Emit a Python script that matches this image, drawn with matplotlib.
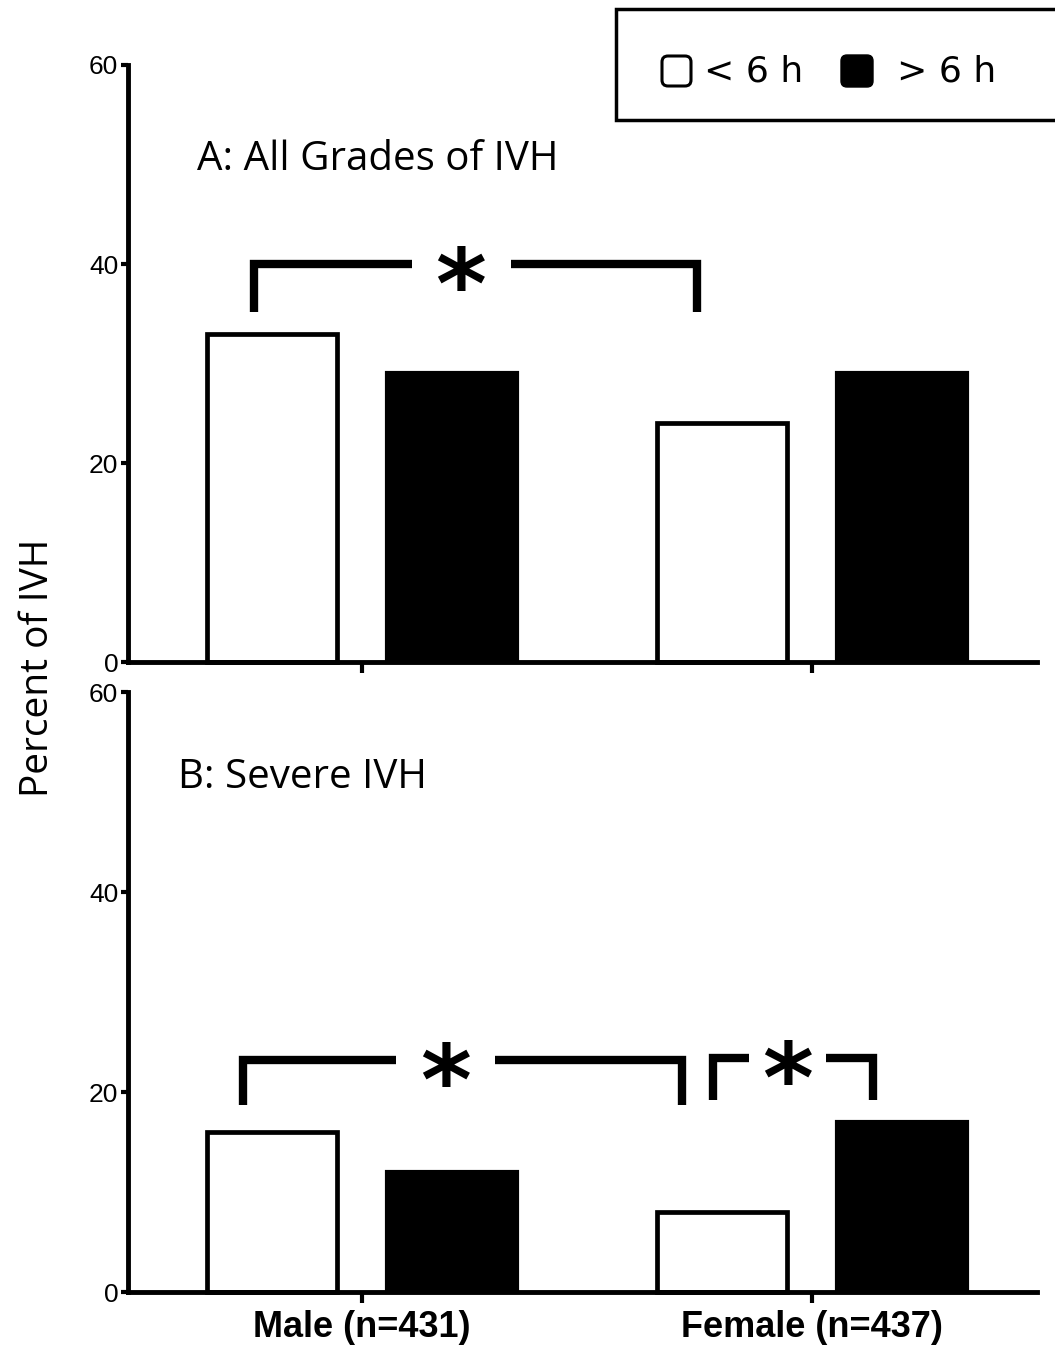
import numpy as np
import matplotlib.pyplot as plt
from matplotlib.patches import Rectangle, FancyBboxPatch
from matplotlib.transforms import offset_copy

# data
groups = ["Male (n=431)", "Female (n=437)"]
all_lt6 = [33, 24]
all_gt6 = [29, 29]
severe_lt6 = [16, 8]
severe_gt6 = [12, 17]
yticks = [0, 20, 40, 60]

# significance brackets: left x, right x, height, foot, gap start, gap end
brackets_a = [(-0.24, 0.745, 40.0, 35.2, 0.11, 0.33)]
brackets_b = [(-0.265, 0.71, 23.2, 18.7, 0.075, 0.295),
              (0.78, 1.135, 23.4, 19.2, 0.86, 1.03)]

W, H = 1055, 1345
fig = plt.figure(figsize=(W / 100, H / 100), dpi=100)

x = np.arange(len(groups))
bw = 0.29
off = 0.2
lw = 3.5
star_fs = 70


def panel(rect, lt6, gt6, title, tpos, brackets, show_x):
    ax = fig.add_axes(rect)
    ax.bar(x - off, lt6, bw, color='white', edgecolor='black', linewidth=3.4, clip_on=False, zorder=3)
    ax.bar(x + off, gt6, bw, color='black', edgecolor='black', linewidth=3, clip_on=False, zorder=3)
    ax.set_xlim(-0.52, 1.5)
    ax.set_ylim(0, 60)
    ax.set_yticks(yticks)
    ax.set_yticklabels([str(t) for t in yticks], fontsize=19, family='Liberation Sans')
    ax.set_xticks(x)
    if show_x:
        ax.set_xticklabels(groups, fontsize=26, fontweight='bold', family='Liberation Sans')
    else:
        ax.set_xticklabels([])
    ax.tick_params(axis='y', length=5, width=3, pad=2)
    ax.tick_params(axis='x', length=8, width=3, pad=5)
    for s in ['top', 'right']:
        ax.spines[s].set_visible(False)
    for s in ['left', 'bottom']:
        ax.spines[s].set_linewidth(lw)
        ax.spines[s].set_zorder(4)
    ax.text(tpos[0], tpos[1], title, transform=ax.transAxes, ha='left', va='center',
            fontsize=29, family='Open Sans')
    star_tr = offset_copy(ax.transData, fig=fig, y=-0.555 * star_fs, units='points')
    for (xl, xr, yh, yf, g0, g1) in brackets:
        kw = dict(color='black', linewidth=6, solid_capstyle='butt', solid_joinstyle='miter', clip_on=False)
        ax.plot([xl, xl, g0], [yf, yh, yh], **kw)
        ax.plot([g1, xr, xr], [yh, yh, yf], **kw)
        ax.text((g0 + g1) / 2, yh, '*', ha='center', va='baseline', fontsize=star_fs,
                fontweight='bold', family='DejaVu Sans', transform=star_tr)
    return ax


left = 128 / W
width = (1037 - 128) / W
panel([left, 1 - 662 / H, width, 597 / H], all_lt6, all_gt6, "A: All Grades of IVH",
      ((197 - 128) / 909, (662 - 160) / 597), brackets_a, False)
panel([left, 1 - 1292 / H, width, 600 / H], severe_lt6, severe_gt6, "B: Severe IVH",
      ((178 - 128) / 909, (1292 - 778) / 600), brackets_b, True)

# overlay in pixel coordinates for y label and legend
ov = fig.add_axes([0, 0, 1, 1], zorder=10)
ov.set_xlim(0, W)
ov.set_ylim(H, 0)
ov.axis('off')
ov.patch.set_visible(False)

ov.text(38, 668, "Percent of IVH", rotation=90, ha='center', va='center', fontsize=28, family='Open Sans')

ov.add_patch(Rectangle((616, 9), 460, 111, facecolor='white', edgecolor='black', linewidth=2.5, clip_on=False))
ov.add_patch(FancyBboxPatch((662, 56), 29, 30, boxstyle='round,pad=0,rounding_size=6',
                            facecolor='white', edgecolor='black', linewidth=2.2))
ov.add_patch(FancyBboxPatch((841, 55), 32, 32, boxstyle='round,pad=0,rounding_size=6',
                            facecolor='black', edgecolor='black', linewidth=1))
ov.text(704, 71, "< 6 h", ha='left', va='center', fontsize=26, family='DejaVu Sans')
ov.text(897, 71, "> 6 h", ha='left', va='center', fontsize=26, family='DejaVu Sans')

fig.savefig('out.png', dpi=100)
